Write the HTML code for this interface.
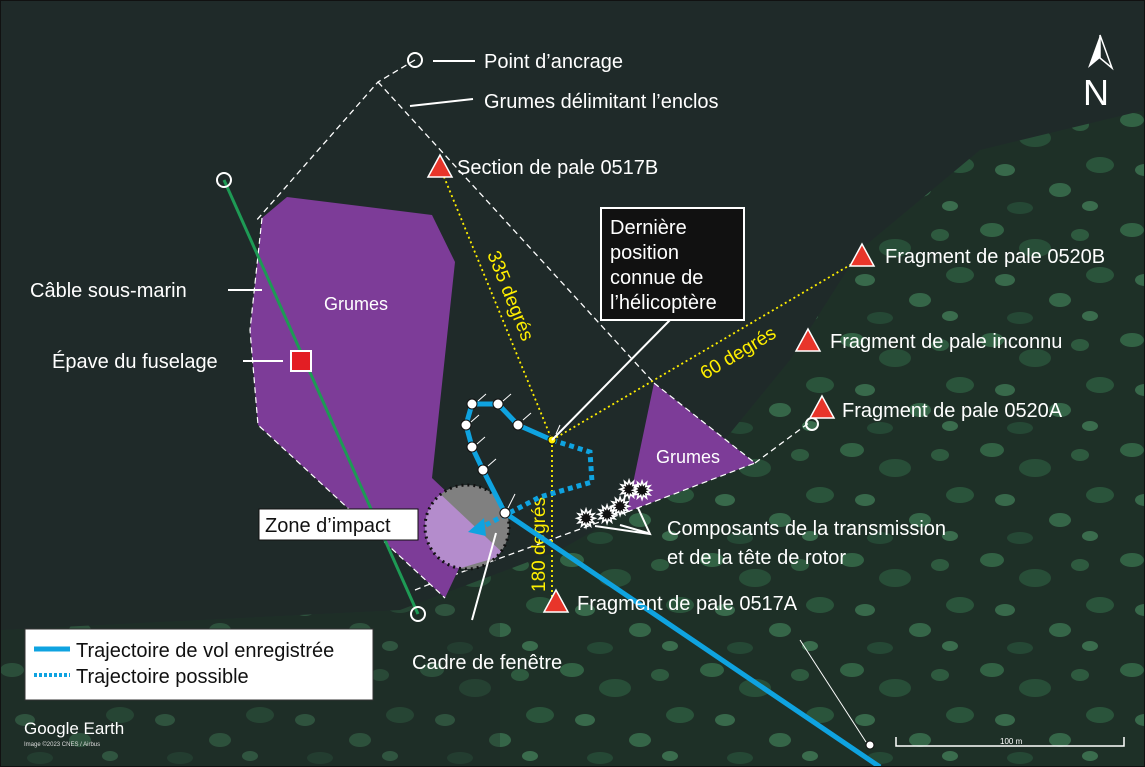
<!DOCTYPE html>
<html><head><meta charset="utf-8"><style>
html,body{margin:0;padding:0;background:#1f2a29}
svg{display:block}
text{font-family:"Liberation Sans",sans-serif}
</style></head><body>
<svg width="1145" height="767" viewBox="0 0 1145 767" xmlns="http://www.w3.org/2000/svg">
<defs>
<pattern id="tr" width="140" height="110" patternUnits="userSpaceOnUse">
<rect width="140" height="110" fill="#1d3326"/>
<ellipse cx="12" cy="10" rx="12" ry="7" fill="#3a7a50"/>
<ellipse cx="55" cy="28" rx="16" ry="9" fill="#2c5e3e"/>
<ellipse cx="25" cy="60" rx="10" ry="6" fill="#42845a"/>
<ellipse cx="100" cy="15" rx="9" ry="6" fill="#356e48"/>
<ellipse cx="120" cy="55" rx="14" ry="8" fill="#2f6643"/>
<ellipse cx="80" cy="80" rx="11" ry="7" fill="#3f8056"/>
<ellipse cx="40" cy="98" rx="13" ry="6" fill="#28553a"/>
<ellipse cx="110" cy="96" rx="8" ry="5" fill="#45885c"/>
</pattern>
<clipPath id="cc"><circle cx="467" cy="527" r="42"/></clipPath>
</defs>
<rect width="1145" height="767" fill="#1f2a29"/>
<polygon points="1145,110 980,150 860,250 790,360 700,470 560,550 400,610 0,630 0,767 1145,767" fill="url(#tr)" opacity="0.7"/>
<rect x="0" y="600" width="500" height="167" fill="#1f2a29" opacity="0.35"/>

<g stroke="#fff" stroke-width="1.3" stroke-dasharray="6,4" fill="none">
<polyline points="415,60 378,82 255,222"/>
<line x1="378" y1="82" x2="654" y2="383"/>
<line x1="755" y1="463" x2="810" y2="422"/>
<polyline points="627,512 440,580 415,590"/>
</g>
<polygon points="262,218 287,197 432,215 455,262 432,478 450,495 470,545 445,598 258,425 250,330" fill="#7d3c98"/>
<polyline points="262,218 250,330 258,425 445,598" fill="none" stroke="#fff" stroke-width="1.2" stroke-dasharray="6,4"/>
<polygon points="654,383 755,463 627,512" fill="#7d3c98"/>
<polyline points="654,383 755,463 627,512" fill="none" stroke="#fff" stroke-width="1.2" stroke-dasharray="6,4"/>
<text x="324" y="310" fill="#fff" font-size="18">Grumes</text>
<text x="656" y="463" fill="#fff" font-size="18">Grumes</text>

<circle cx="467" cy="527" r="42" fill="#808080"/>
<polygon points="420,480 436,490 505,555 420,580" fill="#b48ccc" clip-path="url(#cc)"/>
<circle cx="467" cy="527" r="42" fill="none" stroke="#111" stroke-width="3" stroke-dasharray="2,4"/>

<line x1="224" y1="180" x2="418" y2="614" stroke="#1e9a55" stroke-width="3"/>
<circle cx="224" cy="180" r="7" fill="none" stroke="#fff" stroke-width="2"/>
<circle cx="418" cy="614" r="7" fill="none" stroke="#fff" stroke-width="2"/>
<circle cx="415" cy="60" r="7" fill="none" stroke="#fff" stroke-width="2"/>
<circle cx="812" cy="424" r="6" fill="none" stroke="#fff" stroke-width="2"/>
<rect x="291" y="351" width="20" height="20" fill="#e31e24" stroke="#fff" stroke-width="2"/>

<g stroke="#ffef00" stroke-width="1.8" stroke-dasharray="2,3" fill="none">
<line x1="442" y1="172" x2="552" y2="440"/>
<line x1="552" y1="440" x2="862" y2="258"/>
<line x1="552" y1="440" x2="552" y2="600"/>
</g>
<text transform="translate(487,254) rotate(68)" fill="#ffef00" font-size="19">335 degrés</text>
<text transform="translate(705,380) rotate(-31)" fill="#ffef00" font-size="19">60 degrés</text>
<text transform="translate(545,592) rotate(-90)" fill="#ffef00" font-size="19">180 degrés</text>

<line x1="505" y1="513" x2="880" y2="767" stroke="#0fa3e0" stroke-width="5"/>
<polyline points="505,513 483,470 472,447 466,425 472,404 498,404 518,425 552,440" fill="none" stroke="#0fa3e0" stroke-width="5" stroke-linejoin="round"/>
<polyline points="552,440 590,452 592,482 540,497 482,527" fill="none" stroke="#0fa3e0" stroke-width="5" stroke-dasharray="5,4"/>
<polygon points="468,532 484,518 486,536" fill="#0fa3e0"/>
<g fill="#fff" stroke="#111" stroke-width="1">
<circle cx="505" cy="513" r="5"/><circle cx="483" cy="470" r="5"/><circle cx="472" cy="447" r="5"/><circle cx="466" cy="425" r="5"/><circle cx="472" cy="404" r="5"/><circle cx="498" cy="404" r="5"/><circle cx="518" cy="425" r="5"/><circle cx="552" cy="440" r="4" fill="#ffef00"/><circle cx="870" cy="745" r="4"/>
</g>
<g stroke="#fff" stroke-width="1">
<line x1="478" y1="401" x2="486" y2="394"/><line x1="503" y1="401" x2="511" y2="394"/><line x1="523" y1="420" x2="531" y2="413"/><line x1="471" y1="422" x2="479" y2="415"/><line x1="477" y1="444" x2="485" y2="437"/><line x1="488" y1="466" x2="496" y2="459"/><line x1="508" y1="508" x2="515" y2="494"/><line x1="556" y1="434" x2="560" y2="425"/>
</g>

<g font-size="24" fill="#111" stroke="#fff" stroke-width="1.5">
<text x="576" y="527">✹</text><text x="597" y="523">✹</text><text x="610" y="515">✹</text><text x="619" y="498">✹</text><text x="632" y="499">✹</text>
</g>

<g fill="#e8352a" stroke="#fff" stroke-width="1.5">
<polygon points="440,155 452,177 428,177"/>
<polygon points="862,244 874,266 850,266"/>
<polygon points="808,329 820,351 796,351"/>
<polygon points="822,396 834,418 810,418"/>
<polygon points="556,590 568,612 544,612"/>
</g>

<g stroke="#fff" stroke-width="2">
<line x1="433" y1="61" x2="475" y2="61"/>
<line x1="410" y1="106" x2="473" y2="99"/>
<line x1="228" y1="290" x2="262" y2="290"/>
<line x1="243" y1="361" x2="283" y2="361"/>
<line x1="552" y1="440" x2="670" y2="320"/>
<line x1="496" y1="533" x2="472" y2="620"/>
<polyline points="595,526 650,534 638,508" fill="none"/>
<line x1="620" y1="525" x2="648" y2="533"/>
</g>
<line x1="800" y1="640" x2="866" y2="742" stroke="#fff" stroke-width="1"/>

<g fill="#fff" font-size="20">
<text x="484" y="68">Point d’ancrage</text>
<text x="484" y="108">Grumes délimitant l’enclos</text>
<text x="457" y="174">Section de pale 0517B</text>
<text x="885" y="263">Fragment de pale 0520B</text>
<text x="830" y="348">Fragment de pale inconnu</text>
<text x="842" y="417">Fragment de pale 0520A</text>
<text x="30" y="297">Câble sous-marin</text>
<text x="52" y="368">Épave du fuselage</text>
<text x="667" y="535">Composants de la transmission</text>
<text x="667" y="564">et de la tête de rotor</text>
<text x="577" y="610">Fragment de pale 0517A</text>
<text x="412" y="669">Cadre de fenêtre</text>
</g>

<rect x="601" y="208" width="143" height="112" fill="#111" stroke="#fff" stroke-width="2"/>
<g fill="#fff" font-size="20"><text x="610" y="234">Dernière</text><text x="610" y="259">position</text><text x="610" y="284">connue de</text><text x="610" y="309">l’hélicoptère</text></g>

<rect x="259" y="509" width="159" height="31" fill="#fff" stroke="#111" stroke-width="1"/>
<text x="265" y="532" fill="#111" font-size="20">Zone d’impact</text>

<rect x="25" y="629" width="348" height="71" fill="#fff" stroke="#333"/>
<line x1="34" y1="649" x2="70" y2="649" stroke="#0fa3e0" stroke-width="5"/>
<line x1="34" y1="675" x2="70" y2="675" stroke="#0fa3e0" stroke-width="4" stroke-dasharray="3,2"/>
<text x="76" y="657" fill="#111" font-size="20">Trajectoire de vol enregistrée</text>
<text x="76" y="683" fill="#111" font-size="20">Trajectoire possible</text>

<text x="24" y="734" fill="#fff" font-size="17">Google Earth</text>
<text x="24" y="746" fill="#ddd" font-size="6">Image ©2023 CNES / Airbus</text>

<polyline points="896,737 896,746 1124,746 1124,737" fill="none" stroke="#fff" stroke-width="1.5"/>
<text x="1000" y="744" fill="#fff" font-size="8">100 m</text>

<polygon points="1100,35 1088,68 1100,58" fill="#fff"/>
<polygon points="1100,35 1112,68 1100,58" fill="#1f2a29" stroke="#fff" stroke-width="1.5"/>
<text x="1083" y="105" fill="#fff" font-size="36" font-family="Liberation Serif">N</text>
<rect x="0.5" y="0.5" width="1144" height="766" fill="none" stroke="#111" stroke-width="1"/>
</svg>
</body></html>
